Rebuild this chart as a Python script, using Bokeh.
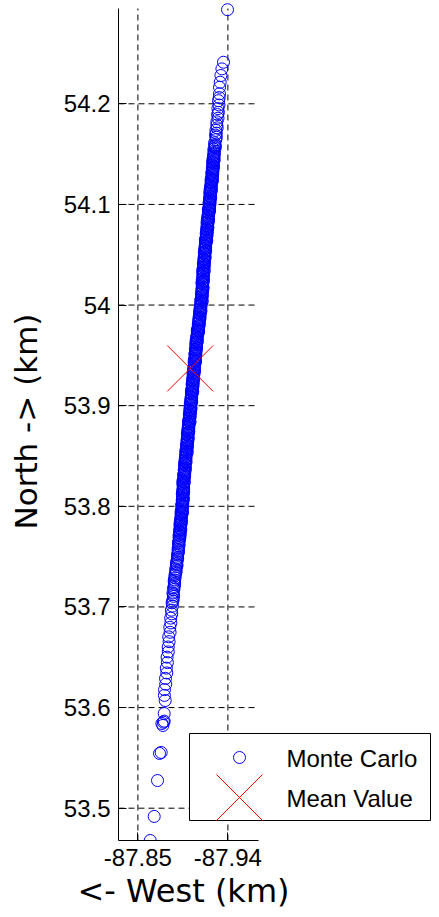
from bokeh.plotting import figure
from bokeh.models import Range1d, FixedTicker, ColumnDataSource, Title
from bokeh.core.properties import value
from bokeh.embed import file_html
from bokeh.resources import INLINE

# ---------------- data ----------------
series_names = ["Monte Carlo", "Mean Value"]

# Monte Carlo samples: North (km) and East (km)
mc_north = [
    53.4679, 53.4918, 53.5275, 53.5544, 53.5554, 53.5822, 53.5842, 53.5855, 53.5865, 53.5941, 53.6070,
    53.6121, 53.6178, 53.6232, 53.6290, 53.6344, 53.6392, 53.6447, 53.6501, 53.6553, 53.6602,
    53.6655, 53.6703, 53.6748, 53.6797, 53.6841, 53.6889, 53.6931, 53.6968,
    53.7008, 53.7041, 53.7077, 53.7105, 53.7139, 53.7172, 53.7203, 53.7236, 53.7269, 53.7311,
    53.7344, 53.7378, 53.7402, 53.7431, 53.7466, 53.7493, 53.7514, 53.7545, 53.7572, 53.7608,
    53.7637, 53.7664, 53.7691,
    53.7058, 53.7122, 53.7188, 53.7221, 53.7253, 53.7289, 53.7327, 53.7361, 53.7418, 53.7449,
    53.7481, 53.7529, 53.7558, 53.7589, 53.7622, 53.7651, 53.7678,
    53.7712, 53.7731, 53.7752, 53.7768, 53.7789, 53.7804, 53.7825, 53.7843, 53.7861, 53.7883,
    53.7917, 53.7936, 53.7949, 53.7973, 53.7994, 53.8012, 53.8031, 53.8052, 53.8068, 53.8089,
    53.8104, 53.8125, 53.8143, 53.8161, 53.8183, 53.8217, 53.8236, 53.8249, 53.8273, 53.8294,
    53.8312, 53.8331, 53.8352, 53.8368, 53.8389, 53.8404, 53.8425, 53.8443, 53.8461, 53.8483,
    53.8517, 53.8536, 53.8549, 53.8573, 53.8594, 53.8612, 53.8631, 53.8652, 53.8668, 53.8689,
    53.8704, 53.8725, 53.8743, 53.8761, 53.8783, 53.8817, 53.8836, 53.8849, 53.8873, 53.8894,
    53.8912, 53.8931, 53.8952, 53.8968, 53.8989, 53.9004, 53.9025, 53.9043, 53.9061, 53.9083,
    53.9117, 53.9136, 53.9149, 53.9173, 53.9194, 53.9212, 53.9231, 53.9252, 53.9268, 53.9289,
    53.9304, 53.9325, 53.9343, 53.9361, 53.9383, 53.9417, 53.9436, 53.9449, 53.9473, 53.9494,
    53.9512, 53.9531, 53.9552, 53.9568, 53.9589, 53.9604, 53.9625, 53.9643, 53.9661, 53.9683,
    53.9717, 53.9736, 53.9749, 53.9773, 53.9794, 53.9812, 53.9831, 53.9852, 53.9868, 53.9889,
    53.9904, 53.9925, 53.9943, 53.9961, 53.9983, 54.0017, 54.0036, 54.0049, 54.0073, 54.0094,
    54.0112, 54.0131, 54.0152, 54.0168, 54.0189, 54.0204, 54.0225, 54.0243, 54.0261, 54.0283,
    54.0317, 54.0336, 54.0349, 54.0373, 54.0394, 54.0412, 54.0431, 54.0452, 54.0468, 54.0489,
    54.0504, 54.0525, 54.0543, 54.0561, 54.0583, 54.0617, 54.0636, 54.0649, 54.0673, 54.0694,
    54.0712, 54.0731, 54.0752, 54.0768, 54.0789, 54.0804, 54.0825, 54.0843, 54.0861, 54.0883,
    54.0917, 54.0936, 54.0949, 54.0973, 54.0994, 54.1012, 54.1031, 54.1052, 54.1068, 54.1089,
    54.1104, 54.1125, 54.1143, 54.1161, 54.1183, 54.1217, 54.1236, 54.1249, 54.1273, 54.1294,
    54.1312, 54.1331, 54.1352, 54.1368, 54.1389, 54.1404, 54.1425, 54.1443, 54.1461, 54.1483,
    54.1517, 54.1549, 54.1573, 54.1594, 54.1612, 54.1643, 54.1668, 54.1689,
    54.1708, 54.1736, 54.1761, 54.1788, 54.1821, 54.1857, 54.1893, 54.1915, 54.1952, 54.1988,
    54.2031, 54.2062, 54.2099, 54.2164, 54.2214, 54.2281, 54.2347, 54.2413, 54.2935,
    53.7703, 53.7721, 53.7742, 53.7760, 53.7779, 53.7814, 53.7834, 53.7852, 53.7872, 53.7893,
    53.7907, 53.7927, 53.7943, 53.7961, 53.7984, 53.8003, 53.8021, 53.8042, 53.8060, 53.8079,
    53.8114, 53.8134, 53.8152, 53.8172, 53.8193, 53.8207, 53.8227, 53.8243, 53.8261, 53.8284,
    53.8303, 53.8321, 53.8342, 53.8360, 53.8379, 53.8414, 53.8434, 53.8452, 53.8472, 53.8493,
    53.8507, 53.8527, 53.8543, 53.8561, 53.8584, 53.8603, 53.8621, 53.8642, 53.8660, 53.8679,
    53.8714, 53.8734, 53.8752, 53.8772, 53.8793, 53.8807, 53.8827, 53.8843, 53.8861, 53.8884,
    53.8903, 53.8921, 53.8942, 53.8960, 53.8979, 53.9014, 53.9034, 53.9052, 53.9072, 53.9093,
    53.9107, 53.9127, 53.9143, 53.9161, 53.9184, 53.9203, 53.9221, 53.9242, 53.9260, 53.9279,
    53.9314, 53.9334, 53.9352, 53.9372, 53.9393, 53.9407, 53.9427, 53.9443, 53.9461, 53.9484,
    53.9503, 53.9521, 53.9542, 53.9560, 53.9579, 53.9614, 53.9634, 53.9652, 53.9672, 53.9693,
    53.9707, 53.9727, 53.9743, 53.9761, 53.9784, 53.9803, 53.9821, 53.9842, 53.9860, 53.9879,
    53.9914, 53.9934, 53.9952, 53.9972, 53.9993, 54.0007, 54.0027, 54.0043, 54.0061, 54.0084,
    54.0103, 54.0121, 54.0142, 54.0160, 54.0179, 54.0214, 54.0234, 54.0252, 54.0272, 54.0293,
    54.0307, 54.0327, 54.0343, 54.0361, 54.0384, 54.0403, 54.0421, 54.0442, 54.0460, 54.0479,
    54.0514, 54.0534, 54.0552, 54.0572, 54.0593, 54.0607, 54.0627, 54.0643, 54.0661, 54.0684,
    54.0703, 54.0721, 54.0742, 54.0760, 54.0779, 54.0814, 54.0834, 54.0852, 54.0872, 54.0893,
    54.0907, 54.0927, 54.0943, 54.0961, 54.0984, 54.1003, 54.1021, 54.1042, 54.1060, 54.1079,
    54.1114, 54.1134, 54.1152, 54.1172, 54.1193, 54.1207, 54.1227, 54.1243, 54.1261, 54.1284,
    54.1303, 54.1321, 54.1342, 54.1360, 54.1379, 54.1414, 54.1434, 54.1452, 54.1472, 54.1493,
    54.1507, 54.1532, 54.1561, 54.1584,
]
mc_east = [
    -87.8623, -87.8663, -87.8696, -87.8716, -87.8733, -87.8750, -87.8740, -87.8756, -87.8763, -87.8763, -87.8773,
    -87.8765, -87.8766, -87.8778, -87.8776, -87.8789, -87.8784, -87.8795, -87.8792, -87.8804, -87.8803,
    -87.8812, -87.8808, -87.8822, -87.8819, -87.8830, -87.8828, -87.8839, -87.8835,
    -87.8845, -87.8842, -87.8852, -87.8857, -87.8850, -87.8860, -87.8862, -87.8866, -87.8864, -87.8870,
    -87.8881, -87.8878, -87.8889, -87.8885, -87.8894, -87.8896, -87.8896, -87.8905, -87.8901, -87.8910,
    -87.8905, -87.8915, -87.8912,
    -87.8849, -87.8855, -87.8858, -87.8866, -87.8863, -87.8872, -87.8875, -87.8882, -87.8891, -87.8888,
    -87.8898, -87.8899, -87.8906, -87.8904, -87.8912, -87.8909, -87.8918,
    -87.8912, -87.8923, -87.8919, -87.8929, -87.8921, -87.8928, -87.8921, -87.8935, -87.8930, -87.8929,
    -87.8934, -87.8945, -87.8932, -87.8943, -87.8942, -87.8938, -87.8949, -87.8945, -87.8955, -87.8947,
    -87.8951, -87.8944, -87.8958, -87.8953, -87.8952, -87.8952, -87.8963, -87.8950, -87.8961, -87.8960,
    -87.8958, -87.8969, -87.8965, -87.8975, -87.8967, -87.8974, -87.8967, -87.8981, -87.8976, -87.8975,
    -87.8981, -87.8992, -87.8979, -87.8990, -87.8989, -87.8986, -87.8997, -87.8993, -87.9003, -87.8995,
    -87.9002, -87.8995, -87.9009, -87.9004, -87.9003, -87.9009, -87.9020, -87.9007, -87.9018, -87.9017,
    -87.9014, -87.9025, -87.9021, -87.9031, -87.9023, -87.9031, -87.9024, -87.9038, -87.9033, -87.9032,
    -87.9037, -87.9048, -87.9035, -87.9046, -87.9045, -87.9042, -87.9053, -87.9049, -87.9059, -87.9051,
    -87.9059, -87.9052, -87.9066, -87.9061, -87.9060, -87.9065, -87.9076, -87.9063, -87.9074, -87.9073,
    -87.9070, -87.9081, -87.9077, -87.9087, -87.9079, -87.9087, -87.9080, -87.9094, -87.9089, -87.9088,
    -87.9096, -87.9107, -87.9094, -87.9105, -87.9104, -87.9104, -87.9115, -87.9111, -87.9121, -87.9113,
    -87.9123, -87.9116, -87.9130, -87.9125, -87.9124, -87.9131, -87.9142, -87.9129, -87.9140, -87.9139,
    -87.9135, -87.9146, -87.9142, -87.9152, -87.9144, -87.9148, -87.9141, -87.9155, -87.9150, -87.9149,
    -87.9151, -87.9162, -87.9149, -87.9160, -87.9159, -87.9155, -87.9166, -87.9162, -87.9172, -87.9164,
    -87.9171, -87.9164, -87.9178, -87.9173, -87.9172, -87.9177, -87.9188, -87.9175, -87.9186, -87.9185,
    -87.9183, -87.9194, -87.9190, -87.9200, -87.9192, -87.9199, -87.9192, -87.9206, -87.9201, -87.9200,
    -87.9206, -87.9217, -87.9204, -87.9215, -87.9214, -87.9211, -87.9222, -87.9218, -87.9228, -87.9220,
    -87.9227, -87.9220, -87.9234, -87.9229, -87.9228, -87.9234, -87.9245, -87.9232, -87.9243, -87.9242,
    -87.9239, -87.9250, -87.9246, -87.9256, -87.9248, -87.9255, -87.9248, -87.9262, -87.9257, -87.9256,
    -87.9262, -87.9260, -87.9271, -87.9270, -87.9267, -87.9279, -87.9284, -87.9276,
    -87.9284, -87.9280, -87.9293, -87.9289, -87.9290, -87.9301, -87.9297, -87.9305, -87.9300, -87.9311,
    -87.9306, -87.9313, -87.9316, -87.9316, -87.9323, -87.9330, -87.9340, -87.9356, -87.9396,
    -87.8922, -87.8915, -87.8922, -87.8917, -87.8927, -87.8922, -87.8933, -87.8924, -87.8935, -87.8932,
    -87.8937, -87.8932, -87.8945, -87.8936, -87.8945, -87.8948, -87.8941, -87.8948, -87.8943, -87.8953,
    -87.8945, -87.8956, -87.8947, -87.8958, -87.8955, -87.8955, -87.8950, -87.8963, -87.8954, -87.8963,
    -87.8968, -87.8961, -87.8968, -87.8963, -87.8973, -87.8968, -87.8979, -87.8970, -87.8981, -87.8978,
    -87.8984, -87.8979, -87.8992, -87.8983, -87.8992, -87.8996, -87.8989, -87.8996, -87.8991, -87.9001,
    -87.8996, -87.9007, -87.8998, -87.9009, -87.9006, -87.9012, -87.9007, -87.9020, -87.9011, -87.9020,
    -87.9024, -87.9017, -87.9024, -87.9019, -87.9029, -87.9025, -87.9036, -87.9027, -87.9038, -87.9035,
    -87.9040, -87.9035, -87.9048, -87.9039, -87.9048, -87.9052, -87.9045, -87.9052, -87.9047, -87.9057,
    -87.9053, -87.9064, -87.9055, -87.9066, -87.9063, -87.9068, -87.9063, -87.9076, -87.9067, -87.9076,
    -87.9080, -87.9073, -87.9080, -87.9075, -87.9085, -87.9081, -87.9092, -87.9083, -87.9094, -87.9091,
    -87.9099, -87.9094, -87.9107, -87.9098, -87.9107, -87.9114, -87.9107, -87.9114, -87.9109, -87.9119,
    -87.9117, -87.9128, -87.9119, -87.9130, -87.9127, -87.9134, -87.9129, -87.9142, -87.9133, -87.9142,
    -87.9145, -87.9138, -87.9145, -87.9140, -87.9150, -87.9142, -87.9153, -87.9144, -87.9155, -87.9152,
    -87.9154, -87.9149, -87.9162, -87.9153, -87.9162, -87.9165, -87.9158, -87.9165, -87.9160, -87.9170,
    -87.9165, -87.9176, -87.9167, -87.9178, -87.9175, -87.9180, -87.9175, -87.9188, -87.9179, -87.9188,
    -87.9193, -87.9186, -87.9193, -87.9188, -87.9198, -87.9193, -87.9204, -87.9195, -87.9206, -87.9203,
    -87.9209, -87.9204, -87.9217, -87.9208, -87.9217, -87.9221, -87.9214, -87.9221, -87.9216, -87.9226,
    -87.9221, -87.9232, -87.9223, -87.9234, -87.9231, -87.9237, -87.9232, -87.9245, -87.9236, -87.9245,
    -87.9249, -87.9242, -87.9249, -87.9244, -87.9254, -87.9249, -87.9260, -87.9251, -87.9262, -87.9259,
    -87.9265, -87.9262, -87.9273, -87.9273,
]

mean_east = [-87.9023]
mean_north = [53.9370]

x_ticks = [-87.85, -87.94]
x_tick_labels = ["-87.85", "-87.94"]
y_ticks = [53.5, 53.6, 53.7, 53.8, 53.9, 54.0, 54.1, 54.2]
y_tick_labels = ["53.5", "53.6", "53.7", "53.8", "53.9", "54", "54.1", "54.2"]

x_label = "<- West (km)"
y_label = "North -> (km)"

# axis limits (east axis runs from right to left in value)
X_LIM = (-87.8306, -87.9706)
Y_LIM = (53.4679, 54.2947)

# ---------------- layout ----------------
FONT = "Liberation Sans"
LABEL_FONT = "DejaVu Sans"
W, H = 439, 917
BL, BB, BT = 118, 77, 2
FW, FH = W - BL, H - BB - BT
PX_PER_UNIT_X = 1000.0
AX_H = 832                                  # pixel height of the axes box
Y_TOP = Y_LIM[1] + (Y_LIM[1] - Y_LIM[0]) * (FH - AX_H) / AX_H   # room for the top marker

p = figure(width=W, height=H, output_backend="svg", toolbar_location=None,
           x_range=Range1d(X_LIM[0], X_LIM[0] - FW / PX_PER_UNIT_X),
           y_range=Range1d(Y_LIM[0], Y_TOP),
           min_border_left=BL, min_border_right=0, min_border_top=BT,
           min_border_bottom=BB)
p.outline_line_color = None
p.background_fill_color = "white"
p.border_fill_color = "white"
p.xgrid.visible = False
p.ygrid.visible = False

p.extra_x_ranges = {"px": Range1d(0, FW)}
p.extra_y_ranges = {"px": Range1d(0, FH)}

# dashed grid limited to the axes box
hsrc = ColumnDataSource(dict(y=y_ticks, x0=[X_LIM[0]] * len(y_ticks), x1=[X_LIM[1]] * len(y_ticks)))
p.segment(x0="x0", y0="y", x1="x1", y1="y", source=hsrc,
          line_color="black", line_width=1, line_dash="6 4")
vsrc = ColumnDataSource(dict(x=x_ticks, y0=[Y_LIM[0]] * len(x_ticks), y1=[Y_LIM[1]] * len(x_ticks)))
p.segment(x0="x", y0="y0", x1="x", y1="y1", source=vsrc,
          line_color="black", line_width=1, line_dash="6 4")

# data
mc_src = ColumnDataSource(dict(x=mc_east, y=mc_north))
p.scatter("x", "y", source=mc_src, marker="circle", size=12,
          fill_color=None, line_color="#0000ff", line_width=1)
X_SIZE = 65
mean_src = ColumnDataSource(dict(x=mean_east, y=mean_north))
p.scatter("x", "y", source=mean_src, marker="x", size=X_SIZE,
          line_color="#ff0000", line_width=1)

# axes
for ax in (p.xaxis[0], p.yaxis[0]):
    ax.axis_line_color = "black"
    ax.axis_line_width = 1
    ax.major_tick_line_color = "black"
    ax.major_tick_in = 8
    ax.major_tick_out = 0
    ax.minor_tick_in = 0
    ax.minor_tick_out = 0
    ax.major_label_text_font = FONT
    ax.major_label_text_font_size = "24px"
    ax.major_label_text_color = "black"
    ax.axis_label_text_font = LABEL_FONT
    ax.axis_label_text_font_style = "normal"
    ax.axis_label_text_color = "black"
    ax.axis_label_text_font_size = "31px"

p.xaxis.ticker = FixedTicker(ticks=x_ticks)
p.xaxis.major_label_overrides = dict(zip(x_ticks, x_tick_labels))
p.xaxis.bounds = (min(X_LIM), max(X_LIM))
p.xaxis.major_label_standoff = 8

p.yaxis.ticker = FixedTicker(ticks=y_ticks)
p.yaxis.major_label_overrides = dict(zip(y_ticks, y_tick_labels))
p.yaxis.bounds = Y_LIM
p.yaxis.axis_label = y_label
p.yaxis.major_label_standoff = 8
p.yaxis.axis_label_standoff = 17

# x-axis title, centred under the axes box (not under the whole frame)
p.add_layout(Title(text=x_label, align="left", offset=-41, standoff=2,
                   text_font=LABEL_FONT, text_font_size="32px", text_font_style="normal",
                   text_color="black"), "below")

# legend box (drawn in frame pixel units, measured from the axes' bottom-left corner)
LG_L, LG_R, LG_B, LG_T = 71, 312, 20, 107
p.quad(left=[LG_L], right=[LG_R], bottom=[LG_B], top=[LG_T],
       x_range_name="px", y_range_name="px",
       fill_color="white", line_color="black", line_width=1)
sym_y = [83, 43]
text_y = [82, 42]
sym_x = 121
p.scatter([sym_x], [sym_y[0]], x_range_name="px", y_range_name="px", marker="circle",
          size=12, fill_color=None, line_color="#0000ff", line_width=1)
p.scatter([sym_x], [sym_y[1]], x_range_name="px", y_range_name="px", marker="x",
          size=X_SIZE, line_color="#ff0000", line_width=1)
p.text(x=[168, 168], y=text_y, text=series_names, x_range_name="px", y_range_name="px",
       text_font=value(FONT), text_font_size="24px", text_color="black",
       text_baseline="middle", text_align="left")

open("out.html", "w").write(file_html(p, INLINE))
